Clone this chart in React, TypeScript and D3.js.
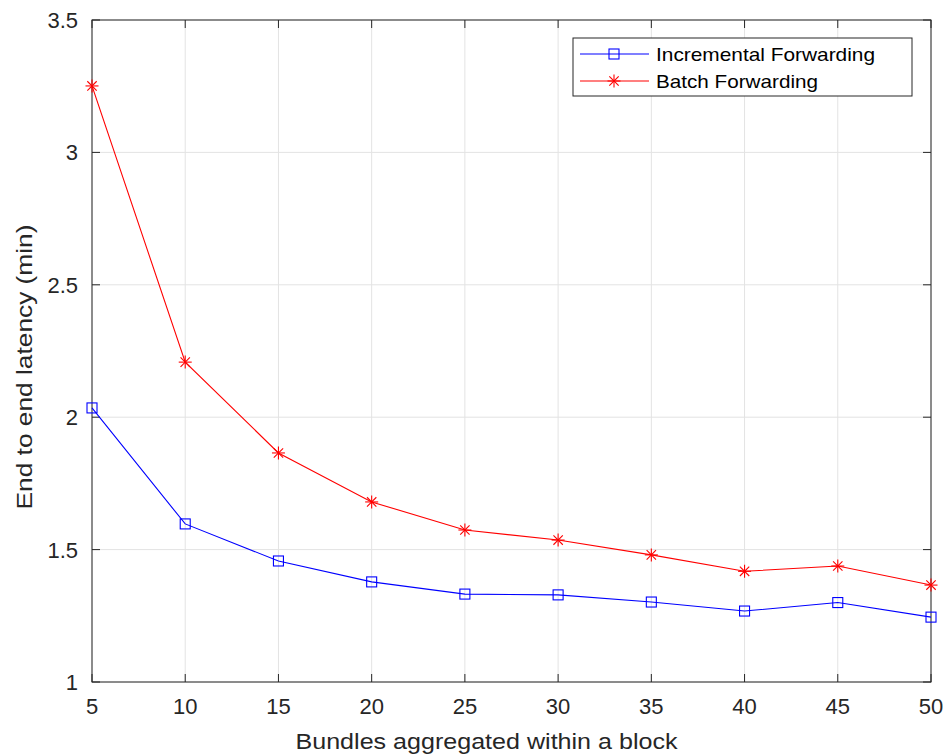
import React from "react";
import * as d3 from "d3";

const xValues = [5, 10, 15, 20, 25, 30, 35, 40, 45, 50];
const incremental = [2.035, 1.597, 1.457, 1.378, 1.332, 1.329, 1.302, 1.268, 1.3, 1.245];
const batch = [3.251, 2.208, 1.865, 1.68, 1.574, 1.536, 1.48, 1.418, 1.438, 1.366];
const xTicks = [5, 10, 15, 20, 25, 30, 35, 40, 45, 50];
const yTicks = [1, 1.5, 2, 2.5, 3, 3.5];
const yTickLabels = ["1", "1.5", "2", "2.5", "3", "3.5"];
const seriesNames = ["Incremental Forwarding", "Batch Forwarding"];

const W = 945, H = 756;
const L = 92, R = 931, T = 20, B = 682;
const FONT = "'Liberation Sans', Arial, Helvetica, sans-serif";
const AX = "#262626";

function Star({ x, y, color }: { x: number; y: number; color: string }) {
  const s = 6.5;
  const d = s * 0.72;
  return (
    <g stroke={color} strokeWidth={1.1}>
      <line x1={x - s} y1={y} x2={x + s} y2={y} />
      <line x1={x} y1={y - s} x2={x} y2={y + s} />
      <line x1={x - d} y1={y - d} x2={x + d} y2={y + d} />
      <line x1={x - d} y1={y + d} x2={x + d} y2={y - d} />
    </g>
  );
}

function Square({ x, y, color }: { x: number; y: number; color: string }) {
  const s = 5;
  return <rect x={x - s} y={y - s} width={2 * s} height={2 * s} fill="none" stroke={color} strokeWidth={1.1} />;
}

export default function App() {
  const xs = d3.scaleLinear().domain([5, 50]).range([L, R]);
  const ys = d3.scaleLinear().domain([1, 3.5]).range([B, T]);
  const line = d3
    .line<number>()
    .x((_, i) => xs(xValues[i]))
    .y((d) => ys(d));

  const legX = 573, legY = 38, legW = 339, legH = 58;
  const rows = [
    { name: seriesNames[0], color: "#0000ff", marker: "sq", y: 54, len: 219 },
    { name: seriesNames[1], color: "#ff0000", marker: "st", y: 81, len: 162 },
  ];

  return (
    <svg width={W} height={H} style={{ position: "absolute", left: 0, top: 0, background: "#fff" }}>
      <rect x={0} y={0} width={W} height={H} fill="#fff" />
      {xTicks.map((t) => (
        <line key={"gx" + t} x1={xs(t)} x2={xs(t)} y1={T} y2={B} stroke="#e3e3e3" strokeWidth={1} />
      ))}
      {yTicks.map((t) => (
        <line key={"gy" + t} x1={L} x2={R} y1={ys(t)} y2={ys(t)} stroke="#e3e3e3" strokeWidth={1} />
      ))}
      <rect x={L} y={T} width={R - L} height={B - T} fill="none" stroke={AX} strokeWidth={1} />
      {xTicks.map((t) => (
        <g key={"tx" + t}>
          <line x1={xs(t)} x2={xs(t)} y1={B} y2={B - 8} stroke={AX} />
          <line x1={xs(t)} x2={xs(t)} y1={T} y2={T + 8} stroke={AX} />
          <text x={xs(t)} y={B + 32} textAnchor="middle" fontFamily={FONT} fontSize={22} fill={AX}>
            {t}
          </text>
        </g>
      ))}
      {yTicks.map((t, i) => (
        <g key={"ty" + t}>
          <line x1={L} x2={L + 8} y1={ys(t)} y2={ys(t)} stroke={AX} />
          <line x1={R} x2={R - 8} y1={ys(t)} y2={ys(t)} stroke={AX} />
          <text x={L - 14} y={ys(t) + 8} textAnchor="end" fontFamily={FONT} fontSize={22} fill={AX}>
            {yTickLabels[i]}
          </text>
        </g>
      ))}
      <path d={line(incremental) || ""} fill="none" stroke="#0000ff" strokeWidth={1.1} />
      <path d={line(batch) || ""} fill="none" stroke="#ff0000" strokeWidth={1.1} />
      {incremental.map((v, i) => (
        <Square key={"s" + i} x={xs(xValues[i])} y={ys(v)} color="#0000ff" />
      ))}
      {batch.map((v, i) => (
        <Star key={"b" + i} x={xs(xValues[i])} y={ys(v)} color="#ff0000" />
      ))}
      <text
        x={(L + R) / 2 - 25}
        y={749}
        textAnchor="middle"
        fontFamily={FONT}
        fontSize={22}
        fill={AX}
        textLength={382}
        lengthAdjust="spacingAndGlyphs"
      >
        Bundles aggregated within a block
      </text>
      <text
        transform={`translate(32, ${(T + B) / 2 + 16}) rotate(-90)`}
        textAnchor="middle"
        fontFamily={FONT}
        fontSize={22}
        fill={AX}
        textLength={285}
        lengthAdjust="spacingAndGlyphs"
      >
        End to end latency (min)
      </text>
      <rect x={legX} y={legY} width={legW} height={legH} fill="#fff" stroke={AX} strokeWidth={1} />
      {rows.map((r) => (
        <g key={r.name}>
          <line x1={580} x2={649} y1={r.y} y2={r.y} stroke={r.color} strokeWidth={1.1} />
          {r.marker === "sq" ? <Square x={614} y={r.y} color={r.color} /> : <Star x={614} y={r.y} color={r.color} />}
          <text
            x={656}
            y={r.y + 7}
            fontFamily={FONT}
            fontSize={19}
            fill="#000"
            textLength={r.len}
            lengthAdjust="spacingAndGlyphs"
          >
            {r.name}
          </text>
        </g>
      ))}
    </svg>
  );
}
